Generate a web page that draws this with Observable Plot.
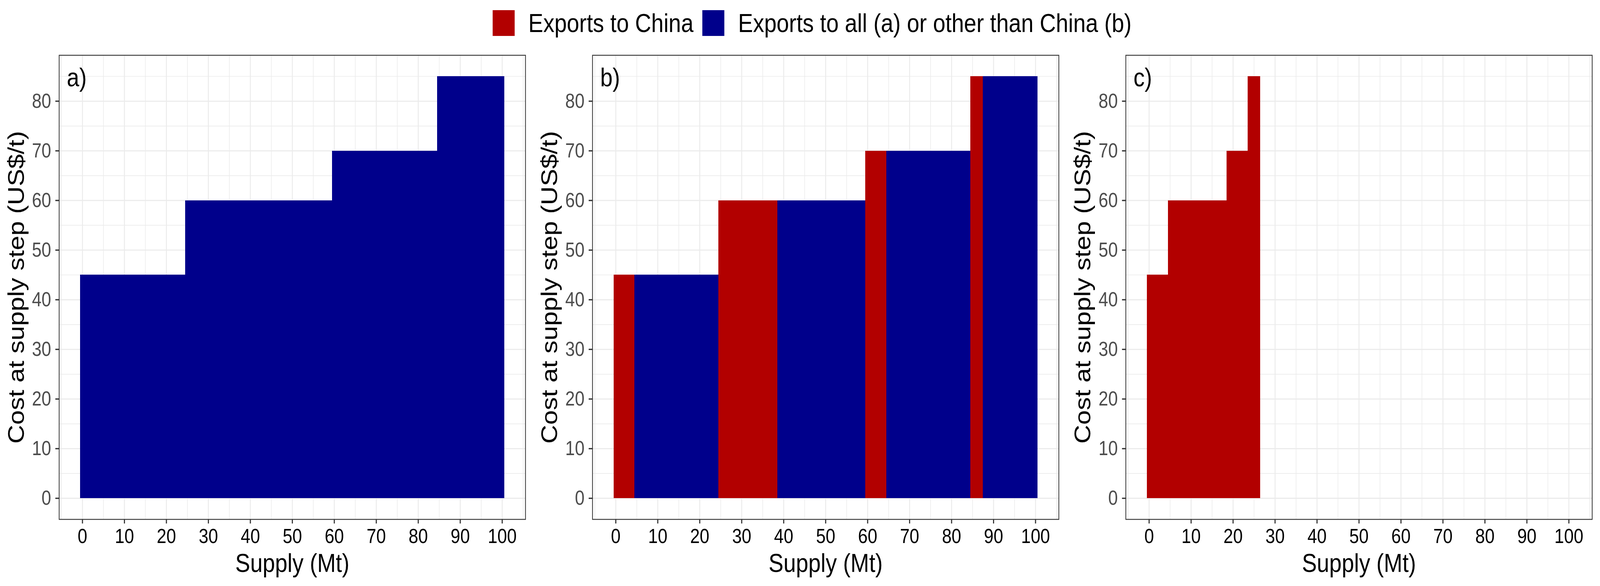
<!DOCTYPE html>
<html>
<head>
<meta charset="utf-8">
<script src="https://cdn.jsdelivr.net/npm/d3@7"></script>
<script src="https://cdn.jsdelivr.net/npm/@observablehq/plot@0.6"></script>
<style>
  html, body { margin: 0; padding: 0; background: #ffffff; overflow: hidden; }
  #page { width: 4800px; height: 1500px; position: relative; overflow: hidden; background: #fff;
          font-family: "Liberation Sans", Arial, sans-serif; transform-origin: 0 0; }
  #legend { position: absolute; left: 1478px; top: 25px; display: flex; align-items: center;
            font-size: 67px; color: #000; line-height: 67px; white-space: nowrap; }
  .key { width: 66px; height: 66px; flex: none; }
  .lab { margin-left: 41px; }
  .item { display: flex; align-items: center; }
  .item + .item { margin-left: 27px; }
  #panels { position: absolute; left: 0; top: 110px; display: flex; }
  #panels svg { display: block; }
</style>
</head>
<body>
<div id="page">
<div id="legend"></div>
<div id="panels"></div>
</div>
<script>
// ---- data ----
const stepCost = [45, 60, 70, 85];          // US$/t at each supply step
const chinaMt  = [5, 14, 5, 3];             // Mt exported to China per step
const otherMt  = [20, 21, 20, 13];          // Mt exported to other destinations per step
const groups = ["china", "other"];
const groupLabels = ["Exports to China", "Exports to all (a) or other than China (b)"];
const groupColors = ["#B20000", "#00008B"];
const panelLabels = ["a)", "b)", "c)"];
const xTicks = [0, 10, 20, 30, 40, 50, 60, 70, 80, 90, 100];
const xMinor = [-5, 5, 15, 25, 35, 45, 55, 65, 75, 85, 95, 105];
const yTicks = [0, 10, 20, 30, 40, 50, 60, 70, 80];
const yMinor = [5, 15, 25, 35, 45, 55, 65, 75, 85];
const xLabel = "Supply (Mt)";
const yLabel = "Cost at supply step (US$/t)";

// ---- build stacked segments (each Mt unit is a bar centred on its integer position) ----
function segments(parts) {
  let pos = -0.5;
  return parts.map(p => {
    const s = {x1: pos, x2: pos + p.mt, cost: p.cost, group: p.group};
    pos += p.mt;
    return s;
  });
}
const dataA = segments(stepCost.map((c, i) => ({mt: chinaMt[i] + otherMt[i], cost: c, group: "other"})));
const dataB = segments(stepCost.flatMap((c, i) => [
  {mt: chinaMt[i], cost: c, group: "china"},
  {mt: otherMt[i], cost: c, group: "other"}
]));
const dataC = segments(stepCost.map((c, i) => ({mt: chinaMt[i], cost: c, group: "china"})));

// ---- legend ----
const legend = document.getElementById("legend");
groupLabels.forEach((lab, i) => {
  const it = document.createElement("div");
  it.className = "item";
  it.innerHTML = `<div class="key" style="background:${groupColors[i]}"></div><div class="lab">${lab}</div>`;
  legend.appendChild(it);
});

// ---- panels ----
const FONT = '"Liberation Sans", Arial, sans-serif';
function panel(data, label) {
  return Plot.plot({
    width: 1600,
    height: 1390,
    marginLeft: 177,
    marginRight: 24,
    marginTop: 31,
    marginBottom: 171,
    style: {fontFamily: FONT, background: "white", overflow: "visible"},
    x: {domain: [-5.55, 105.55]},
    y: {domain: [-4.25, 89.25]},
    color: {domain: groups, range: groupColors},
    marks: [
      Plot.ruleX(xMinor, {stroke: "#EBEBEB", strokeWidth: 1.7}),
      Plot.ruleY(yMinor, {stroke: "#EBEBEB", strokeWidth: 1.7}),
      Plot.ruleX(xTicks, {stroke: "#EBEBEB", strokeWidth: 2.8}),
      Plot.ruleY(yTicks, {stroke: "#EBEBEB", strokeWidth: 2.8}),
      Plot.rect(data, {x1: "x1", x2: "x2", y1: 0, y2: "cost", fill: "group", inset: 0, shapeRendering: "crispEdges"}),
      Plot.frame({stroke: "#333333", strokeWidth: 2.3}),
      Plot.axisX({ticks: xTicks, tickSize: 11, tickPadding: 13, fontSize: 52, stroke: "#333333", strokeWidth: 3.3, fill: "#000000", label: null, tickFormat: d => String(d)}),
      Plot.axisY({ticks: yTicks, tickSize: 11, tickPadding: 13, fontSize: 52, stroke: "#333333", strokeWidth: 3.3, fill: "#4D4D4D", label: null, tickFormat: d => String(d)}),
      Plot.text([xLabel], {frameAnchor: "bottom", lineAnchor: "bottom", dy: 134, fontSize: 67, fill: "#000000", textAnchor: "middle"}),
      Plot.text([yLabel], {frameAnchor: "left", lineAnchor: "top", rotate: -90, dx: -154, fontSize: 67, fill: "#000000", textAnchor: "middle"}),
      Plot.text([label], {frameAnchor: "top-left", lineAnchor: "bottom", dx: 23, dy: 79, fontSize: 67, fill: "#000000", textAnchor: "start"})
    ]
  });
}
const host = document.getElementById("panels");
[dataA, dataB, dataC].forEach((d, i) => host.appendChild(panel(d, panelLabels[i])));

// ---- fit the 4800x1500 page into the actual viewport ----
const vw = document.documentElement.clientWidth || window.innerWidth;
const vh = document.documentElement.clientHeight || window.innerHeight;
const sx = vw / 4800, sy = vh / 1500;
if (Math.abs(sx - 1) > 0.005 || Math.abs(sy - 1) > 0.005) {
  const page = document.getElementById("page");
  page.style.transform = `scale(${sx}, ${sy})`;
  document.body.style.width = (4800 * sx) + "px";
  document.body.style.height = (1500 * sy) + "px";
}
</script>
</body>
</html>
